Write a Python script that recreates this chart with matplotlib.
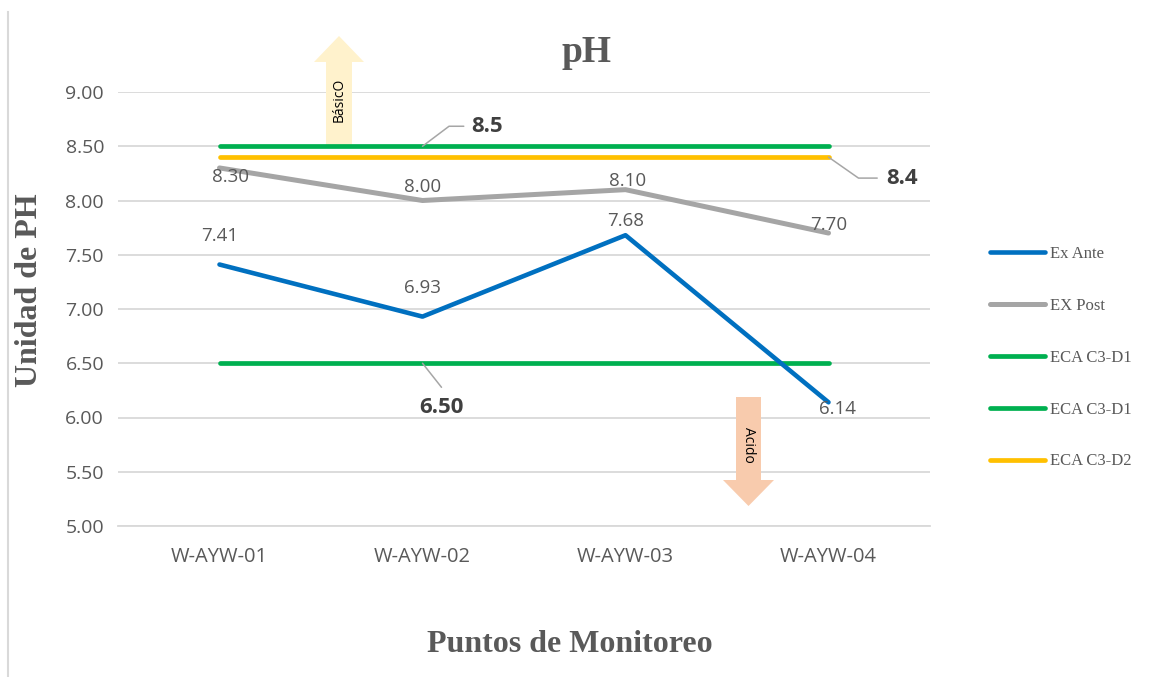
import numpy as np
import matplotlib
matplotlib.use("Agg")
import matplotlib.pyplot as plt
from matplotlib.patches import FancyArrow
from matplotlib.transforms import IdentityTransform
from matplotlib.lines import Line2D

# =========================
# DATA
# =========================
puntos = ["W-AYW-01", "W-AYW-02", "W-AYW-03", "W-AYW-04"]
ex_ante = [7.41, 6.93, 7.68, 6.14]
ex_post = [8.30, 8.00, 8.10, 7.70]
eca_d1_min = [6.50, 6.50, 6.50, 6.50]
eca_d1_max = [8.50, 8.50, 8.50, 8.50]
eca_d2 = [8.40, 8.40, 8.40, 8.40]
y_ticks = [5.00, 5.50, 6.00, 6.50, 7.00, 7.50, 8.00, 8.50, 9.00]

# label offsets in pixels (dx, dy)
ante_off = [(0, 29), (0, 29), (0, 14), (9, -7)]
post_off = [(11, -9), (0, 13), (2, 9), (0, 8)]

# colors
BLUE = "#0070C0"
GRAY = "#A5A5A5"
GREEN = "#00B050"
YELLOW = "#FFC000"
TXT = "#595959"
GRID = "#D9D9D9"

W, H = 1162, 677
fig = plt.figure(figsize=(W / 100, H / 100), dpi=100)
fig.patch.set_facecolor("white")

ax = fig.add_axes([118 / W, 1 - 526 / H, (930 - 118) / W, 434 / H])
ax.patch.set_alpha(0)
x = np.arange(len(puntos))

# =========================
# LINES
# =========================
l_ante, = ax.plot(x, ex_ante, color=BLUE, lw=3.3, solid_capstyle="round", zorder=3)
l_post, = ax.plot(x, ex_post, color=GRAY, lw=3.6, solid_capstyle="round", zorder=3)
l_min, = ax.plot(x, eca_d1_min, color=GREEN, lw=3.4, solid_capstyle="round", zorder=2.8)
l_max, = ax.plot(x, eca_d1_max, color=GREEN, lw=3.4, solid_capstyle="round", zorder=2.8)
l_d2, = ax.plot(x, eca_d2, color=YELLOW, lw=3.4, solid_capstyle="round", zorder=2.8)

ax.set_xlim(-0.5, len(puntos) - 0.5)
ax.set_ylim(y_ticks[0], y_ticks[-1])
ax.set_yticks(y_ticks)
ax.set_yticklabels([f"{v:.2f}" for v in y_ticks])
ax.set_xticks(x)
ax.set_xticklabels(puntos)
ax.tick_params(length=0, labelsize=14, labelcolor=TXT, pad=10)
ax.tick_params(axis="x", pad=15, labelsize=14.5)
for lab in ax.get_xticklabels() + ax.get_yticklabels():
    lab.set_fontfamily("Open Sans")
ax.grid(axis="y", color=GRID, lw=1.3)
ax.set_axisbelow(True)
for s in ["top", "right", "left"]:
    ax.spines[s].set_visible(False)
ax.spines["bottom"].set_color(GRID)
ax.spines["bottom"].set_linewidth(1.3)

# =========================
# DATA LABELS
# =========================
for xi, v, off in zip(x, ex_ante, ante_off):
    ax.annotate(f"{v:.2f}", (xi, v), xytext=off, textcoords="offset pixels",
                ha="center", va="center", fontsize=13.5, color=TXT,
                family="Open Sans", zorder=5)
for xi, v, off in zip(x, ex_post, post_off):
    ax.annotate(f"{v:.2f}", (xi, v), xytext=off, textcoords="offset pixels",
                ha="center", va="center", fontsize=13.5, color=TXT,
                family="Open Sans", zorder=5)

# leader labels for limits
lead = dict(arrowstyle="-", color="#A6A6A6", lw=1.1, shrinkA=0, shrinkB=0)
ax.annotate(f"{eca_d1_max[1]:.1f}", (1, eca_d1_max[1]), xytext=(65, 20),
            textcoords="offset pixels", ha="center", va="center", fontsize=16,
            fontweight="bold", color="#404040", family="Open Sans",
            arrowprops=dict(lead, connectionstyle="angle,angleA=0,angleB=37,rad=0",
                            relpos=(-0.25, 0.5)))
ax.annotate(f"{eca_d2[3]:.1f}", (3, eca_d2[3]), xytext=(74, -21),
            textcoords="offset pixels", ha="center", va="center", fontsize=16,
            fontweight="bold", color="#404040", family="Open Sans",
            arrowprops=dict(lead, connectionstyle="angle,angleA=0,angleB=-35,rad=0",
                            relpos=(-0.3, 0.5)))
ax.annotate(f"{eca_d1_min[1]:.2f}", (1, eca_d1_min[1]), xytext=(19, -44),
            textcoords="offset pixels", ha="center", va="center", fontsize=16,
            fontweight="bold", color="#404040", family="Open Sans",
            arrowprops=dict(lead, relpos=(0.5, 1.45)))

# =========================
# ARROWS (pixel coords)
# =========================
up = FancyArrow(339, H - 146, 0, 110, width=26, head_width=50, head_length=26,
                length_includes_head=True, color="#FFF2CC", lw=0,
                transform=IdentityTransform(), zorder=1.5, clip_on=False)
ax.add_artist(up)
ax.text(339, H - 100, "BásicO", rotation=90, ha="center", va="center",
        fontsize=10, color="black", family="Open Sans",
        transform=IdentityTransform(), zorder=1.6)
down = FancyArrow(748.5, H - 397, 0, -109, width=25, head_width=51, head_length=26,
                  length_includes_head=True, color="#F8CBAD", lw=0,
                  transform=IdentityTransform(), zorder=1.5, clip_on=False)
ax.add_artist(down)
ax.text(748.5, H - 445, "Acido", rotation=-90, ha="center", va="center",
        fontsize=10, color="black", family="Open Sans",
        transform=IdentityTransform(), zorder=1.6)

# =========================
# TITLES
# =========================
fig.text(587 / W, 1 - 52 / H, "pH", ha="center", va="center", fontsize=27,
         fontweight="bold", color=TXT, family="Liberation Serif")
fig.text(30 / W, 1 - 290 / H, "Unidad de PH", ha="center", va="center",
         rotation=90, fontsize=23, fontweight="bold", color=TXT,
         family="Liberation Serif")
fig.text(570 / W, 1 - 645 / H, "Puntos de Monitoreo", ha="center", va="center",
         fontsize=23, fontweight="bold", color=TXT, family="Liberation Serif")

# left border fragment
fig.add_artist(Line2D([8 / W, 8 / W], [0, 1 - 12 / H], color=GRID, lw=1.5))

# =========================
# LEGEND
# =========================
handles = [l_ante, l_post, l_min, l_max, l_d2]
names = ["Ex Ante", "EX Post", "ECA C3-D1", "ECA C3-D1", "ECA C3-D2"]
leg = fig.legend(handles, names, loc="upper left",
                 bbox_to_anchor=(990 / W, 1 - 246 / H), frameon=False,
                 prop={"family": "Liberation Serif", "size": 12},
                 handlelength=3.3, handletextpad=0.3, labelspacing=2.15,
                 borderpad=0, borderaxespad=0)
for t in leg.get_texts():
    t.set_color(TXT)

plt.savefig("out.png", dpi=100)
